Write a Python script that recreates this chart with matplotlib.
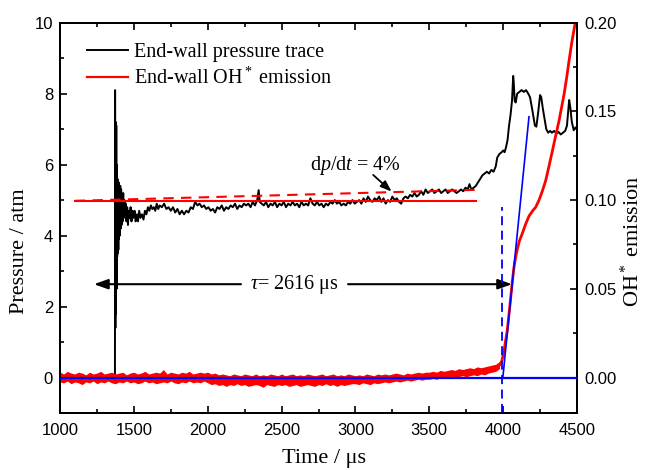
import matplotlib
matplotlib.use("Agg")
import matplotlib.pyplot as plt
from matplotlib.ticker import MultipleLocator, FormatStrFormatter
from matplotlib.lines import Line2D

plt.rcParams['font.family'] = ['Liberation Sans', 'DejaVu Sans']
plt.rcParams['mathtext.fontset'] = 'custom'
plt.rcParams['mathtext.rm'] = 'Liberation Serif'
plt.rcParams['mathtext.it'] = 'Liberation Serif:italic'
plt.rcParams['mathtext.bf'] = 'Liberation Serif:bold'
plt.rcParams['mathtext.fallback'] = 'stix'
SERIF = ['Liberation Serif', 'DejaVu Serif']

# ---------------- data ----------------
# End-wall pressure trace (time in us, pressure in atm)
p_t = [1000, 1372, 1373, 1375, 1377, 1379, 1381, 1383, 1385, 1387, 1389, 1391, 1393, 1395,
       1397, 1399, 1402, 1405, 1408, 1411, 1414, 1417, 1420, 1424, 1428, 1432, 1436, 1440,
       1445, 1450, 1455, 1460, 1466, 1472, 1478, 1484, 1490, 1497, 1505, 1512, 1520, 1528,
       1536, 1545, 1555, 1565, 1575, 1585, 1595, 1605, 1615, 1625, 1635, 1645, 1655, 1665,
       1675, 1690, 1705, 1720, 1735, 1750, 1765, 1780, 1795, 1810, 1825, 1840, 1855, 1870,
       1885, 1900, 1915, 1930, 1945, 1960, 1975, 1990, 2005, 2020, 2035, 2050, 2065, 2080,
       2095, 2110, 2125, 2140, 2155, 2170, 2185, 2200, 2215, 2230, 2245, 2260, 2275, 2290,
       2305, 2320, 2335, 2345, 2352, 2365, 2380, 2395, 2410, 2425, 2440, 2455, 2470, 2485,
       2500, 2515, 2530, 2545, 2560, 2575, 2590, 2605, 2620, 2635, 2650, 2665, 2680, 2695,
       2710, 2725, 2740, 2755, 2770, 2785, 2800, 2815, 2830, 2845, 2860, 2875, 2890, 2905,
       2920, 2935, 2950, 2965, 2980, 2995, 3010, 3025, 3040, 3055, 3070, 3085, 3100, 3115,
       3130, 3145, 3160, 3175, 3190, 3205, 3220, 3235, 3250, 3265, 3280, 3295, 3310, 3325,
       3340, 3355, 3370, 3385, 3400, 3415, 3430, 3445, 3460, 3475, 3490, 3505, 3520, 3535,
       3550, 3565, 3580, 3595, 3610, 3625, 3640, 3655, 3670, 3685, 3700, 3715, 3730, 3745,
       3760, 3772, 3785, 3800, 3815, 3830, 3845, 3860, 3875, 3890, 3905, 3920, 3935, 3950,
       3960, 3975, 3990, 4000, 4010, 4020, 4030, 4040, 4050, 4060, 4068, 4072, 4078, 4085,
       4095, 4110, 4125, 4140, 4155, 4170, 4182, 4195, 4205, 4215, 4225, 4238, 4250, 4258,
       4268, 4280, 4292, 4305, 4318, 4330, 4345, 4360, 4375, 4390, 4405, 4420, 4432, 4440,
       4447, 4455, 4465, 4478, 4490, 4500]
p_v = [0.0, 0.0, 8.1, 1.4, 7.2, 1.8, 7.1, 2.5, 6.0, 3.4, 5.6, 3.5, 5.5, 3.6,
       5.5, 3.9, 5.3, 4.0, 5.4, 4.2, 5.3, 4.3, 5.1, 4.4, 5.2, 4.5, 5.0, 4.6,
       4.9, 4.4, 4.8, 4.3, 4.7, 4.5, 4.8, 4.4, 4.7, 4.5, 4.7, 4.4, 4.6, 4.4,
       4.7, 4.5, 4.6, 4.45, 4.7, 4.6, 4.8, 4.7, 4.85, 4.75, 4.8, 4.7, 4.9, 4.75,
       4.85, 4.8, 4.9, 4.75, 4.8, 4.7, 4.8, 4.65, 4.75, 4.6, 4.7, 4.6, 4.7, 4.65,
       4.8, 4.75, 4.95, 4.85, 4.9, 4.8, 4.85, 4.75, 4.8, 4.7, 4.75, 4.65, 4.8, 4.75,
       4.85, 4.7, 4.8, 4.75, 4.85, 4.8, 4.9, 4.75, 4.85, 4.8, 4.9, 4.85, 4.9, 4.8,
       4.95, 4.85, 5.0, 5.28, 4.95, 4.9, 4.85, 4.95, 4.8, 4.9, 4.85, 4.95, 4.8, 4.9,
       4.85, 4.95, 4.8, 4.9, 4.85, 4.95, 4.85, 4.9, 4.8, 4.95, 4.85, 4.9, 4.85, 5.05,
       4.9, 4.85, 4.95, 4.85, 4.9, 4.8, 4.9, 4.85, 4.95, 4.9, 5.0, 4.9, 4.95, 4.85,
       4.9, 4.85, 4.95, 4.9, 5.0, 4.9, 4.95, 5.0, 4.9, 5.05, 4.95, 5.1, 5.0, 4.95,
       5.05, 5.0, 5.1, 4.95, 5.05, 4.9, 5.0, 4.95, 5.1, 5.0, 5.05, 4.95, 4.9, 5.05,
       5.1, 5.05, 5.15, 5.1, 5.2, 5.1, 5.15, 5.25, 5.15, 5.3, 5.2, 5.25, 5.3, 5.2,
       5.25, 5.3, 5.2, 5.25, 5.3, 5.2, 5.25, 5.3, 5.25, 5.2, 5.25, 5.3, 5.25, 5.35,
       5.3, 5.45, 5.3, 5.35, 5.4, 5.5, 5.6, 5.7, 5.75, 5.8, 5.75, 5.85, 5.8, 5.95,
       6.2, 6.3, 6.35, 6.4, 6.35, 6.5, 6.7, 7.1, 7.4, 7.8, 8.5, 8.3, 7.8, 7.75,
       8.0, 8.05, 8.1, 8.05, 8.1, 8.0, 7.9, 7.6, 7.35, 7.1, 7.07, 7.5, 7.96, 7.9,
       7.6, 7.3, 7.0, 6.9, 6.95, 6.9, 6.95, 6.88, 6.92, 6.85, 6.9, 6.95, 7.1, 7.5,
       7.82, 7.6, 7.2, 6.97, 7.05, 6.98]

# End-wall OH* emission before ignition: noisy baseline band (time, upper edge, lower edge)
band_t = [1000, 1025, 1050, 1075, 1100, 1125, 1150, 1175, 1200, 1225, 1250, 1275, 1300, 1325,
          1350, 1375, 1400, 1425, 1450, 1475, 1500, 1525, 1550, 1575, 1600, 1625, 1650, 1675,
          1700, 1725, 1750, 1775, 1800, 1825, 1850, 1875, 1900, 1925, 1950, 1975, 2000, 2025,
          2050, 2075, 2100, 2125, 2150, 2175, 2200, 2225, 2250, 2275, 2300, 2325, 2350, 2375,
          2400, 2425, 2450, 2475, 2500, 2525, 2550, 2575, 2600, 2625, 2650, 2675, 2700, 2725,
          2750, 2775, 2800, 2825, 2850, 2875, 2900, 2925, 2950, 2975, 3000, 3025, 3050, 3075,
          3100, 3125, 3150, 3175, 3200, 3225, 3250, 3275, 3300, 3325, 3350, 3375, 3400, 3425,
          3450, 3475, 3500, 3525, 3550, 3575, 3600, 3625, 3650, 3675, 3700, 3725, 3750, 3775,
          3800, 3825, 3850, 3875, 3900, 3925, 3950, 3975]
band_hi = [0.003, 0.002, 0.0035, 0.0025, 0.002, 0.003, 0.0025, 0.0015, 0.003, 0.002,
           0.0025, 0.0035, 0.002, 0.0025, 0.003, 0.002, 0.0025, 0.003, 0.0015, 0.0025,
           0.003, 0.002, 0.0025, 0.0035, 0.002, 0.0025, 0.003, 0.0025, 0.0045, 0.002,
           0.003, 0.0025, 0.002, 0.003, 0.0025, 0.0035, 0.002, 0.0025, 0.003, 0.0025,
           0.003, 0.002, 0.0025, 0.0015, 0.002, 0.0015, 0.001, 0.002, 0.0015, 0.001,
           0.002, 0.0015, 0.001, 0.002, 0.001, 0.0015, 0.001, 0.002, 0.0015, 0.001,
           0.002, 0.001, 0.0015, 0.002, 0.001, 0.0015, 0.001, 0.002, 0.0015, 0.001,
           0.0015, 0.002, 0.001, 0.0015, 0.002, 0.001, 0.0015, 0.001, 0.002, 0.0015,
           0.001, 0.0015, 0.001, 0.002, 0.0015, 0.001, 0.002, 0.0015, 0.002, 0.0015,
           0.002, 0.0025, 0.002, 0.0015, 0.0025, 0.002, 0.0025, 0.003, 0.0025, 0.003,
           0.003, 0.0035, 0.003, 0.004, 0.0035, 0.004, 0.0045, 0.004, 0.005, 0.0045,
           0.005, 0.0055, 0.005, 0.006, 0.0055, 0.006, 0.0065, 0.007, 0.0075, 0.009]
band_lo = [-0.0025, -0.003, -0.002, -0.0035, -0.0025, -0.003, -0.004, -0.0025, -0.003, -0.002,
           -0.0035, -0.0025, -0.003, -0.002, -0.003, -0.0035, -0.0025, -0.003, -0.002, -0.003,
           -0.0025, -0.0035, -0.003, -0.002, -0.003, -0.0025, -0.0035, -0.003, -0.0025, -0.003,
           -0.002, -0.003, -0.0035, -0.0025, -0.003, -0.002, -0.003, -0.0025, -0.003, -0.002,
           -0.003, -0.004, -0.0035, -0.0045, -0.004, -0.005, -0.004, -0.0045, -0.0035, -0.0045,
           -0.004, -0.005, -0.0045, -0.004, -0.0045, -0.0055, -0.004, -0.0045, -0.005, -0.004,
           -0.0045, -0.004, -0.005, -0.0045, -0.004, -0.005, -0.0045, -0.004, -0.0045, -0.005,
           -0.004, -0.0045, -0.0035, -0.0045, -0.004, -0.005, -0.004, -0.0045, -0.004, -0.0035,
           -0.0035, -0.004, -0.003, -0.0035, -0.004, -0.003, -0.0035, -0.003, -0.0025, -0.003,
           -0.0025, -0.002, -0.0025, -0.002, -0.0015, -0.002, -0.0015, -0.001, -0.0015, -0.001,
           -0.001, -0.0005, -0.001, 0.0, -0.0005, 0.0, 0.0005, 0.0, 0.0005, 0.001,
           0.0005, 0.001, 0.0015, 0.001, 0.002, 0.0015, 0.0025, 0.003, 0.0035, 0.005]

# End-wall OH* emission during ignition (time, signal)
oh_t = [3975, 3990, 4004, 4015, 4027, 4040, 4050, 4062, 4073, 4085, 4095, 4110, 4129, 4150,
        4175, 4200, 4220, 4243, 4265, 4288, 4310, 4334, 4355, 4379, 4395, 4413, 4430, 4447,
        4465, 4488, 4500]
oh_v = [0.007, 0.009, 0.014, 0.020, 0.026, 0.036, 0.044, 0.054, 0.062, 0.068, 0.072, 0.077,
        0.081, 0.086, 0.091, 0.094, 0.096, 0.100, 0.105, 0.111, 0.119, 0.128, 0.136, 0.145,
        0.152, 0.160, 0.169, 0.179, 0.189, 0.200, 0.206]

# Fitted lines on the pressure plateau (time, pressure)
flat_t = [1100, 3816]
flat_p = [4.97, 4.97]
slope_t = [1100, 3822]
slope_p = [4.98, 5.29]

# Ignition-delay construction on the OH* axis (time, signal)
base_t = [1000, 4500]
base_v = [0.0, 0.0]
tan_t = [3998, 4175]
tan_v = [0.0, 0.147]
onset_t = [3995, 3995]
onset_v = [-0.02, 0.096]

# ---------------- figure ----------------
fig = plt.figure(figsize=(6.52, 4.70), dpi=100)
ax = fig.add_axes([60 / 652, 1 - 413 / 470, 517 / 652, 390.3 / 470])
ax2 = ax.twinx()

ax.plot(p_t, p_v, color='black', lw=1.4, zorder=2)
ax.plot(flat_t, flat_p, color='red', lw=1.5, zorder=3)
ax.plot(slope_t, slope_p, color='red', lw=1.5, ls=(0, (5, 3.5)), zorder=3)

ax2.fill_between(band_t, band_lo, band_hi, color='red', lw=0, zorder=2)
ax2.plot(oh_t, oh_v, color='red', lw=2.0, zorder=2)
ax2.plot(base_t, base_v, color='blue', lw=1.6, zorder=4)
ax2.plot(tan_t, tan_v, color='blue', lw=1.2, zorder=4)
ax2.plot(onset_t, onset_v, color='blue', lw=1.3, ls=(0, (5, 3)), zorder=4)

ax.set_xlim(1000, 4500)
ax.set_ylim(-1, 10)
ax2.set_ylim(-0.02, 0.20)

ax.xaxis.set_major_locator(MultipleLocator(500))
ax.xaxis.set_minor_locator(MultipleLocator(250))
ax.yaxis.set_major_locator(MultipleLocator(2))
ax.yaxis.set_minor_locator(MultipleLocator(1))
ax2.yaxis.set_major_locator(MultipleLocator(0.05))
ax2.yaxis.set_minor_locator(MultipleLocator(0.025))
ax2.yaxis.set_major_formatter(FormatStrFormatter('%.2f'))

for a in (ax, ax2):
    for s in a.spines.values():
        s.set_linewidth(1.4)

ax.tick_params(axis='x', which='both', direction='in', top=True, bottom=True, labelsize=12, pad=7)
ax.tick_params(axis='y', which='both', direction='in', left=True, right=False, labelsize=12, pad=5)
ax2.tick_params(axis='y', which='both', direction='in', right=True, labelsize=12, pad=5)
for a in (ax, ax2):
    a.tick_params(which='major', length=5, width=1.2)
    a.tick_params(which='minor', length=3, width=1.2)

ax.set_xlabel('Time / μs', fontfamily=SERIF, fontsize=16)
ax.set_ylabel('Pressure / atm', fontfamily=SERIF, fontsize=16)
ax2.set_ylabel('OH$^*$ emission', fontfamily=SERIF, fontsize=16)
ax.xaxis.set_label_coords(0.51, -0.093)
ax.yaxis.set_label_coords(-0.060, 0.415)
ax2.yaxis.set_label_coords(1.085, 0.44)

# Legend
h1 = Line2D([], [], color='black', lw=1.4)
h2 = Line2D([], [], color='red', lw=1.6)
leg = ax2.legend([h1, h2], ['End-wall pressure trace', 'End-wall OH$^*$ emission'],
                 loc='upper left', bbox_to_anchor=(0.053, 0.947), frameon=False,
                 prop={'family': SERIF, 'size': 14.5}, handlelength=2.0, handletextpad=0.3,
                 labelspacing=0.25, borderpad=0, borderaxespad=0)

# Annotations
arrow = dict(arrowstyle='-|>,head_length=0.7,head_width=0.25', color='black', lw=1.5,
             mutation_scale=12, shrinkA=0, shrinkB=0)
ax.annotate('', xy=(1230, 2.63), xytext=(2225, 2.63), arrowprops=arrow)
ax.annotate('', xy=(4060, 2.63), xytext=(2950, 2.63), arrowprops=arrow)
ax.text(2588, 2.63, r'$\tau$= 2616 μs', fontfamily=SERIF, fontsize=14.5,
        ha='center', va='center')
ax.text(3000, 5.98, r'd$p$/d$t$ = 4%', fontfamily=SERIF, fontsize=14.5,
        ha='center', va='center')
arrow2 = dict(arrowstyle='-|>,head_length=0.6,head_width=0.22', color='black', lw=1.3,
              mutation_scale=11, shrinkA=0, shrinkB=0)
ax.annotate('', xy=(3245, 5.24), xytext=(3120, 5.71), arrowprops=arrow2)

fig.savefig('out.png', dpi=100)
